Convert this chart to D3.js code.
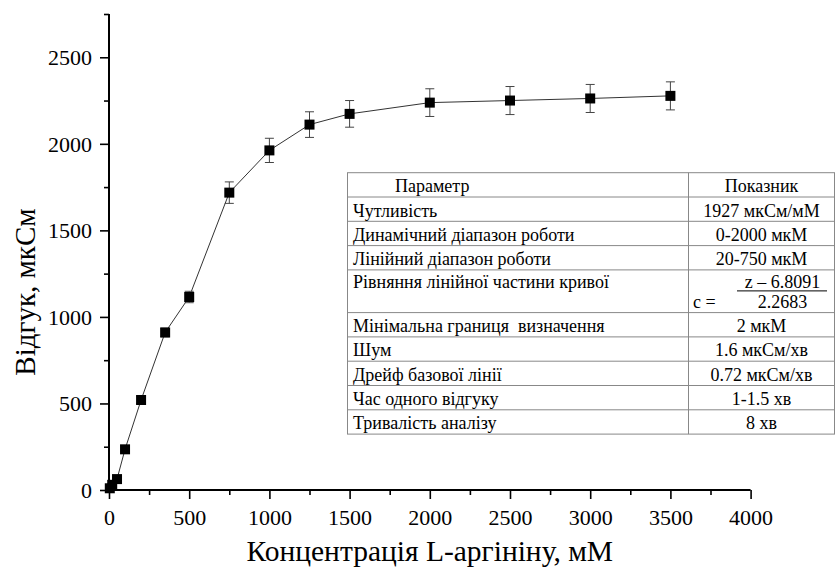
<!DOCTYPE html>
<html><head><meta charset="utf-8">
<script src="https://cdn.jsdelivr.net/npm/d3@7"></script>
<style>body{margin:0;background:#fff}svg{display:block}text{font-family:"Liberation Serif","Times New Roman",serif}</style>
</head><body><svg id="c" width="836" height="570"></svg>
<script>
const conc = [5, 20, 50, 100, 200, 350, 500, 750, 1000, 1250, 1500, 2000, 2500, 3000, 3500];
const resp = [10, 30, 63, 235, 520, 910, 1115, 1718, 1962, 2111, 2173, 2238, 2250, 2262, 2277];
const errs = [5, 8, 10, 15, 20, 25, 33, 62, 70, 74, 77, 80, 81, 81, 81];
const xTicks = [0, 500, 1000, 1500, 2000, 2500, 3000, 3500, 4000];
const yTicks = [0, 500, 1000, 1500, 2000, 2500];
const xTitle = "Концентрація L-аргініну, мМ";
const yTitle = "Відгук, мкСм";
const params = ["Параметр", "Чутливість", "Динамічний діапазон роботи", "Лінійний діапазон роботи",
  "Рівняння лінійної частини кривої", "Мінімальна границя  визначення", "Шум", "Дрейф базової лінії",
  "Час одного відгуку", "Тривалість аналізу"];
const values = ["Показник", "1927 мкСм/мМ", "0-2000 мкМ", "20-750 мкМ", null, "2 мкМ",
  "1.6 мкСм/хв", "0.72 мкСм/хв", "1-1.5 хв", "8 хв"];
const eqNum = "z – 6.8091", eqDen = "2.2683", eqLhs = "c =";

const FONT = "Liberation Serif";
const svg = d3.select("#c");
const x = d3.scaleLinear().domain([0, 4000]).range([109, 750.6]);
const y = d3.scaleLinear().domain([0, 2750]).range([490, 14]);

// axes
const xAxis = d3.axisBottom(x).tickValues(d3.range(0, 4001, 250)).tickSize(9)
  .tickFormat(d => xTicks.includes(d) ? d : "");
const gx = svg.append("g").attr("transform", "translate(0,490)").call(xAxis);
gx.selectAll(".tick line").attr("y2", d => xTicks.includes(d) ? 9 : 5);
const yAxis = d3.axisLeft(y).tickValues(d3.range(0, 2751, 250)).tickSize(9)
  .tickFormat(d => yTicks.includes(d) ? d : "");
const gy = svg.append("g").attr("transform", "translate(109,0)").call(yAxis);
gy.selectAll(".tick line").attr("x2", d => yTicks.includes(d) ? -9 : -5);
[gx, gy].forEach(g => {
  g.attr("font-family", FONT);
  g.select(".domain").attr("stroke", "#000").attr("stroke-width", 2);
  g.selectAll(".tick line").attr("stroke", "#000").attr("stroke-width", 1.6);
  g.selectAll(".tick text").attr("font-family", FONT).attr("font-size", 22).attr("fill", "#000");
});
gx.select(".domain").attr("d", `M${x(0)},0H${x(4000)}`);
gy.select(".domain").attr("d", `M0,${y(0)}V${y(2750)}`);
gx.selectAll(".tick text").attr("dy", 0).attr("y", 35);
gy.selectAll(".tick text").attr("x", -17).attr("dy", "0.33em");

svg.append("text").attr("x", 429.8).attr("y", 561).attr("text-anchor", "middle")
  .attr("font-family", FONT).attr("font-size", 29.5).text(xTitle);
svg.append("text").attr("transform", "translate(35,292) rotate(-90)").attr("text-anchor", "middle")
  .attr("font-family", FONT).attr("font-size", 29).text(yTitle);

// line
const pts = conc.map((c, i) => [c, resp[i], errs[i]]);
svg.append("path").datum(pts).attr("fill", "none").attr("stroke", "#333").attr("stroke-width", 1)
  .attr("d", d3.line().x(d => x(d[0])).y(d => y(d[1])));
// error bars
const eb = svg.append("g").attr("stroke", "#444").attr("stroke-width", 1);
pts.forEach(d => {
  const cx = x(d[0]);
  eb.append("line").attr("x1", cx).attr("x2", cx).attr("y1", y(d[1] - d[2])).attr("y2", y(d[1] + d[2]));
  eb.append("line").attr("x1", cx - 4.5).attr("x2", cx + 4.5).attr("y1", y(d[1] - d[2])).attr("y2", y(d[1] - d[2]));
  eb.append("line").attr("x1", cx - 4.5).attr("x2", cx + 4.5).attr("y1", y(d[1] + d[2])).attr("y2", y(d[1] + d[2]));
});
svg.append("g").selectAll("rect").data(pts).join("rect")
  .attr("x", d => x(d[0]) - 5).attr("y", d => y(d[1]) - 5).attr("width", 10).attr("height", 10).attr("fill", "#000");

// table
const tL = 347.5, tR = 834.5, tC = 688.5, tTop = 172.7;
const rh = 24.3, eqH = 42.7;
const heights = params.map((p, i) => values[i] === null ? eqH : rh);
const tops = []; let acc = tTop; heights.forEach(h => { tops.push(acc); acc += h; });
const tBot = acc;
const tg = svg.append("g").attr("font-family", FONT);
tg.append("rect").attr("x", tL).attr("y", tTop).attr("width", tR - tL).attr("height", tBot - tTop)
  .attr("fill", "#fff").attr("stroke", "#888").attr("stroke-width", 1);
tg.append("line").attr("x1", tC).attr("x2", tC).attr("y1", tTop).attr("y2", tBot).attr("stroke", "#888");
tops.slice(1).forEach(t => tg.append("line").attr("x1", tL).attr("x2", tR).attr("y1", t).attr("y2", t).attr("stroke", "#888"));
const fs = 18;
params.forEach((p, i) => {
  const base = tops[i] + (values[i] === null ? 18.3 : 19.5);
  tg.append("text").attr("x", i === 0 ? 395 : 353).attr("y", base).attr("font-size", fs).attr("xml:space", "preserve").text(p);
  if (values[i] !== null) {
    tg.append("text").attr("x", 761.5).attr("y", base).attr("text-anchor", "middle").attr("font-size", fs).text(values[i]);
  } else {
    tg.append("text").attr("x", 782.5).attr("y", tops[i] + 18.3).attr("text-anchor", "middle").attr("font-size", fs).text(eqNum);
    tg.append("line").attr("x1", 737).attr("x2", 827).attr("y1", tops[i] + 21).attr("y2", tops[i] + 21).attr("stroke", "#000").attr("stroke-width", 1);
    tg.append("text").attr("x", 782.5).attr("y", tops[i] + 38.3).attr("text-anchor", "middle").attr("font-size", fs).text(eqDen);
    tg.append("text").attr("x", 693).attr("y", tops[i] + 38.3).attr("font-size", fs).text(eqLhs);
  }
});
</script></body></html>
